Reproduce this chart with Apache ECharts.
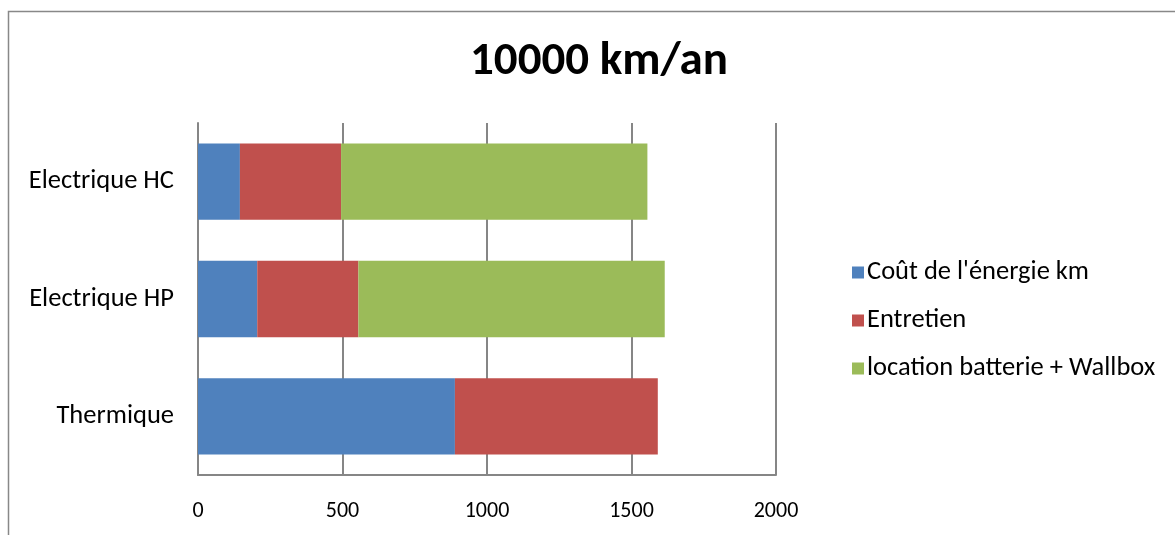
<!DOCTYPE html>
<html>
<head>
<meta charset="utf-8">
<script src="https://cdn.jsdelivr.net/npm/echarts@6/dist/echarts.min.js"></script>
<style>
  html, body { margin: 0; padding: 0; background: #fff; }
  #chart { width: 1175px; height: 535px; }
</style>
</head>
<body>
<div id="chart"></div>
<script>
// Annual cost per vehicle type, 10000 km per year
const categories = ['Thermique', 'Electrique HP', 'Electrique HC'];
const seriesNames = ["Coût de l'énergie km", 'Entretien', 'location batterie + Wallbox'];
const energieCost = [889, 205, 145];
const entretienCost = [702, 350, 350];
const locationBatterie = [0, 1060, 1060];
const xTicks = [0, 500, 1000, 1500, 2000];
const colors = ['#4F81BD', '#C0504D', '#9BBB59'];

const FONT = 'Carlito, Lato, "Open Sans", sans-serif';
const chart = echarts.init(document.getElementById('chart'));

const values = [energieCost, entretienCost, locationBatterie];
chart.setOption({
  animation: false,
  textStyle: { fontFamily: FONT },
  title: {
    text: '10000 km/an',
    left: 594,
    textAlign: 'center',
    top: 34,
    textStyle: { fontFamily: FONT, fontSize: 47, fontWeight: 'bold', color: '#000' }
  },
  graphic: [{
    type: 'rect',
    shape: { x: 8.5, y: 11.5, width: 1200, height: 600 },
    style: { fill: 'none', stroke: '#888', lineWidth: 1.5 },
    silent: true
  }],
  legend: {
    orient: 'vertical',
    left: 847,
    top: 254,
    itemWidth: 12,
    itemHeight: 12,
    itemGap: 21,
    icon: 'rect',
    data: seriesNames,
    textStyle: { fontFamily: FONT, fontSize: 26.5, color: '#000', padding: [0, 0, 0, -2] }
  },
  grid: { left: 198, top: 123, width: 578, height: 352, containLabel: false },
  xAxis: {
    type: 'value',
    min: xTicks[0],
    max: xTicks[xTicks.length - 1],
    interval: 500,
    axisLine: { show: true, lineStyle: { color: '#868686', width: 2 } },
    axisTick: { show: false },
    axisLabel: {
      color: '#000', fontSize: 22, fontFamily: FONT, margin: 25,
      formatter: (v) => String(v)
    },
    splitLine: { show: true, lineStyle: { color: '#868686', width: 2 } }
  },
  yAxis: {
    type: 'category',
    data: categories,
    axisLine: { show: true, lineStyle: { color: '#868686', width: 2 } },
    axisTick: { show: false },
    axisLabel: { color: '#000', fontSize: 26.5, fontFamily: FONT, margin: 24 }
  },
  series: seriesNames.map((name, i) => ({
    name: name,
    type: 'bar',
    stack: 'total',
    barCategoryGap: '35%',
    itemStyle: { color: colors[i] },
    data: values[i]
  }))
});
</script>
</body>
</html>
